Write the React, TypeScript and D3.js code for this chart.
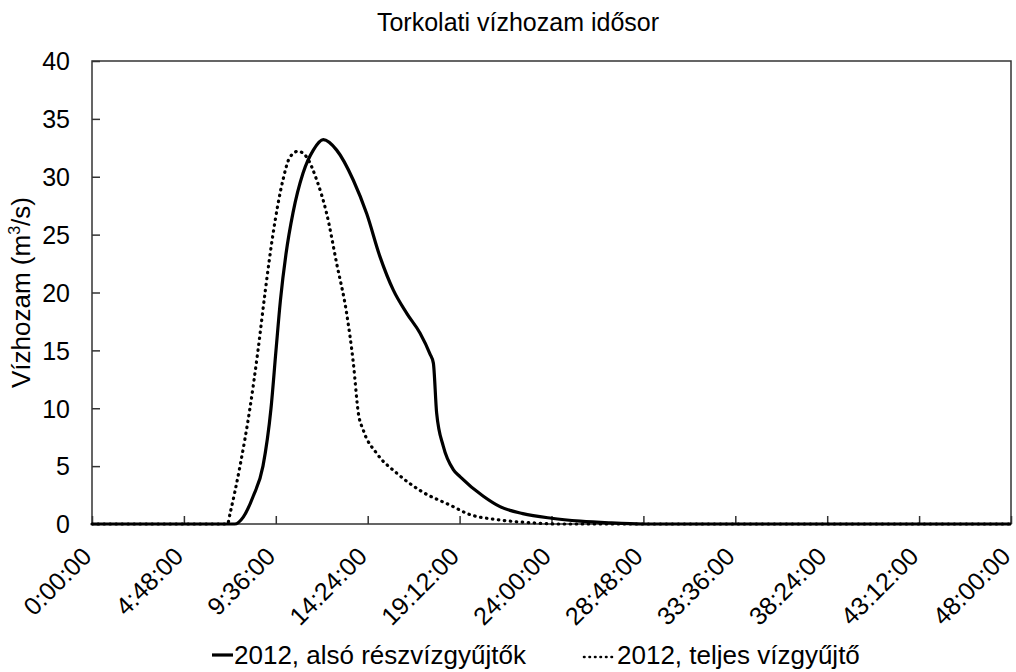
import React, { useRef, useEffect } from 'react';
import * as d3 from 'd3';

// time in hours, discharge in m3/s
const lowerHours = [0, 7.45, 7.9, 8.42, 8.93, 9.35, 9.61, 9.84, 10.13, 10.5, 11.02, 11.56, 12.08, 12.78, 13.65, 14.35, 15.04, 15.74, 16.44, 17.13, 17.65, 17.83, 18.0, 18.35, 18.87, 19.22, 20.44, 21.31, 22.5, 24.0, 25.5, 27.0, 28.8, 48];
const lowerFlow = [0, 0, 0.6, 2.4, 5.0, 10.0, 15.0, 19.3, 23.3, 26.9, 30.3, 32.3, 33.2, 32.3, 29.7, 26.8, 23.1, 20.2, 18.2, 16.5, 14.7, 13.9, 9.6, 6.7, 4.7, 4.1, 2.4, 1.5, 0.9, 0.5, 0.25, 0.1, 0, 0];

const fullHours = [0, 7.08, 7.21, 7.73, 8.25, 8.67, 9.04, 9.45, 9.97, 10.34, 10.76, 11.21, 11.74, 12.26, 12.78, 13.3, 13.65, 13.91, 14.17, 14.87, 15.91, 17.13, 18.87, 19.6, 21.3, 23.0, 24.5, 48];
const fullFlow = [0, 0, 0.9, 5.0, 10.0, 15.0, 20.0, 25.0, 29.7, 31.7, 32.2, 31.7, 29.7, 26.8, 22.5, 18.2, 13.9, 9.6, 8.1, 6.1, 4.4, 2.9, 1.5, 0.9, 0.35, 0.1, 0, 0];

const xTickHours = [0, 4.8, 9.6, 14.4, 19.2, 24, 28.8, 33.6, 38.4, 43.2, 48];
const xTickLabels = ['0:00:00', '4:48:00', '9:36:00', '14:24:00', '19:12:00', '24:00:00', '28:48:00', '33:36:00', '38:24:00', '43:12:00', '48:00:00'];
const yTicks = [0, 5, 10, 15, 20, 25, 30, 35, 40];

const title = 'Torkolati vízhozam idősor';
const legendLabels = ['2012, alsó részvízgyűjtők', '2012, teljes vízgyűjtő'];

const App = () => {
  const ref = useRef<SVGSVGElement>(null);

  useEffect(() => {
    const svg = d3.select(ref.current);
    svg.selectAll('*').remove();

    const width = 1016;
    const height = 672;
    const margin = { top: 61, right: 5, bottom: 148, left: 92 };
    const font = 'Liberation Sans, Arial, sans-serif';

    const x = d3.scaleLinear()
      .domain([0, 48])
      .range([margin.left, width - margin.right]);

    const y = d3.scaleLinear()
      .domain([0, 40])
      .range([height - margin.bottom, margin.top]);

    // frame
    svg.append('rect')
      .attr('x', x(0))
      .attr('y', y(40))
      .attr('width', x(48) - x(0))
      .attr('height', y(0) - y(40))
      .attr('fill', 'none')
      .attr('stroke', '#333')
      .attr('stroke-width', 1.5);

    // y axis
    const yAxis = svg.append('g')
      .attr('transform', `translate(${x(0)},0)`)
      .call(d3.axisRight(y).tickValues(yTicks).tickSize(8).tickFormat(d => `${d}`));
    yAxis.select('.domain').remove();
    yAxis.selectAll('line').attr('stroke', '#333').attr('stroke-width', 1.5);
    yAxis.selectAll('text')
      .attr('x', -22)
      .attr('text-anchor', 'end')
      .attr('dy', '0.35em')
      .style('font-family', font)
      .style('font-size', '25px')
      .attr('fill', '#000');

    // x axis
    const xAxis = svg.append('g')
      .attr('transform', `translate(0,${y(0)})`)
      .call(d3.axisTop(x).tickValues(xTickHours).tickSize(8).tickFormat(() => ''));
    xAxis.select('.domain').remove();
    xAxis.selectAll('line').attr('stroke', '#333').attr('stroke-width', 1.5);

    svg.append('g')
      .selectAll('text')
      .data(xTickHours)
      .enter()
      .append('text')
      .attr('transform', d => `translate(${x(d) + 1},${y(0) + 34}) rotate(-45)`)
      .attr('text-anchor', 'end')
      .style('font-family', font)
      .style('font-size', '25px')
      .text((d, i) => xTickLabels[i]);

    const line = d3.line<[number, number]>()
      .x(d => x(d[0]))
      .y(d => y(d[1]))
      .curve(d3.curveMonotoneX);

    svg.append('path')
      .datum(fullHours.map((h, i) => [h, fullFlow[i]] as [number, number]))
      .attr('d', line)
      .attr('fill', 'none')
      .attr('stroke', '#000')
      .attr('stroke-width', 3.2)
      .attr('stroke-linecap', 'round')
      .attr('stroke-dasharray', '0.5 5.5');

    svg.append('path')
      .datum(lowerHours.map((h, i) => [h, lowerFlow[i]] as [number, number]))
      .attr('d', line)
      .attr('fill', 'none')
      .attr('stroke', '#000')
      .attr('stroke-width', 3.2);

    // title
    svg.append('text')
      .attr('x', 518)
      .attr('y', 31)
      .attr('text-anchor', 'middle')
      .style('font-family', font)
      .style('font-size', '25px')
      .text(title);

    // y label
    const yLabel = svg.append('text')
      .attr('transform', `translate(30,${(y(0) + y(40)) / 2}) rotate(-90)`)
      .attr('text-anchor', 'middle')
      .style('font-family', font)
      .style('font-size', '26px');
    yLabel.append('tspan').text('Vízhozam (m');
    yLabel.append('tspan').attr('dy', -10).style('font-size', '16px').text('3');
    yLabel.append('tspan').attr('dy', 10).text('/s)');

    // legend
    const legendY = 655;
    const legend = svg.append('g');
    legend.append('line')
      .attr('x1', 212).attr('x2', 233)
      .attr('y1', legendY).attr('y2', legendY)
      .attr('stroke', '#000').attr('stroke-width', 3.2);
    legend.append('text')
      .attr('x', 234).attr('y', legendY + 9)
      .style('font-family', font)
      .style('font-size', '26px')
      .text(legendLabels[0]);
    legend.append('line')
      .attr('x1', 584).attr('x2', 614)
      .attr('y1', legendY + 2).attr('y2', legendY + 2)
      .attr('stroke', '#000').attr('stroke-width', 2.6)
      .attr('stroke-linecap', 'round')
      .attr('stroke-dasharray', '0.5 5');
    legend.append('text')
      .attr('x', 617).attr('y', legendY + 9)
      .style('font-family', font)
      .style('font-size', '26px')
      .text(legendLabels[1]);
  }, []);

  return <svg ref={ref} width={1016} height={672} style={{ position: 'absolute', left: 0, top: 0, background: '#fff' }}></svg>;
};

export default App;
